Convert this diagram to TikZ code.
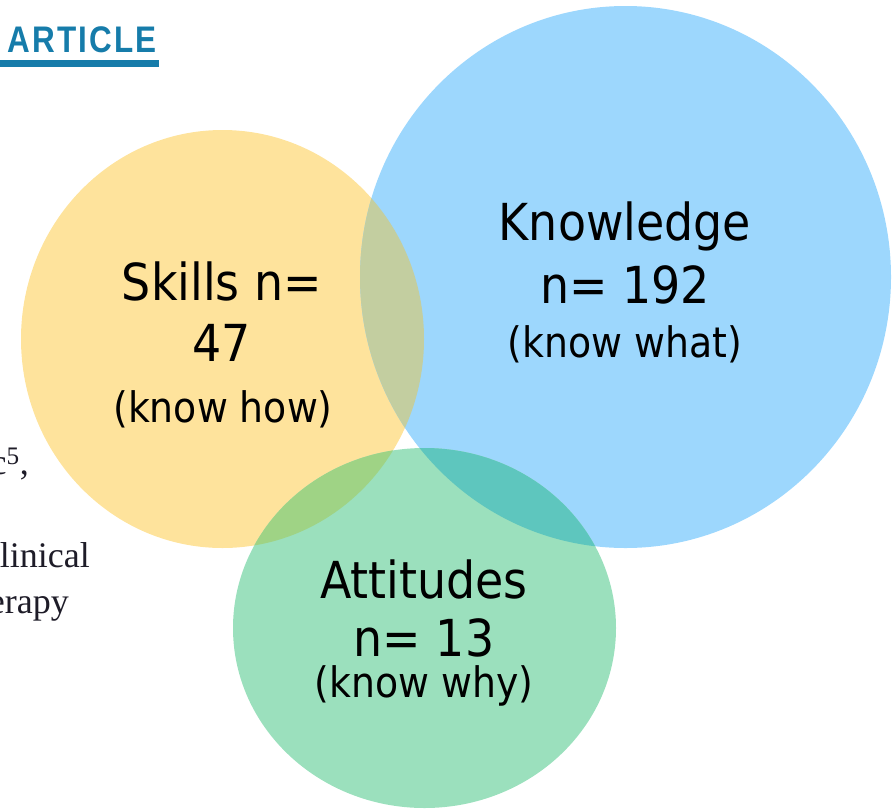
\documentclass[tikz,border=0pt]{standalone}
\usepackage{fontspec}
\setmainfont{DejaVu Sans}[FakeStretch=0.9]
\newfontfamily\headfont{Liberation Sans}[FakeStretch=0.85, LetterSpace=6]
\newfontfamily\bodyfont{Liberation Serif}

\definecolor{skillfill}{RGB}{254,227,156}
\definecolor{knowfill}{RGB}{157,215,253}
\definecolor{attfill}{RGB}{155,224,189}
\definecolor{skknow}{RGB}{195,206,160}
\definecolor{skatt}{RGB}{159,211,133}
\definecolor{knatt}{RGB}{94,198,190}
\definecolor{articleblue}{RGB}{22,124,170}
\definecolor{bodyink}{RGB}{30,28,40}

\tikzset{
  skillshape/.style={insert path={(222.5,339) ellipse [x radius=201.5pt, y radius=209pt]}},
  knowshape/.style={insert path={(625.5,277) ellipse [x radius=265.5pt, y radius=271pt]}},
  attshape/.style={insert path={(424.5,628) ellipse [x radius=191.5pt, y radius=180pt]}},
  biglabel/.style={inner sep=0pt, anchor=base, text=black, font=\fontsize{51}{51}\selectfont},
  smalllabel/.style={inner sep=0pt, anchor=base, text=black, font=\fontsize{42}{42}\selectfont},
  bodytext/.style={inner sep=0pt, anchor=base east, text=bodyink, font=\bodyfont\fontsize{36}{36}\selectfont},
}

\begin{document}
\begin{tikzpicture}[x=1pt, y=-1pt]
  \useasboundingbox (0,0) rectangle (896,809);
  \clip (0,0) rectangle (896,809);

  % header of the page behind the diagram
  \node[inner sep=0pt, anchor=base west, text=articleblue,
        font=\headfont\bfseries\fontsize{37}{37}\selectfont] (article) at (7,52) {ARTICLE};
  \fill[articleblue] (0,60) rectangle (159,67);

  % fragments of the article body at the left edge
  \node[bodytext] (frag1) at (29,474) {c\textsuperscript{5},};
  \node[bodytext] (frag2) at (90,567) {linical};
  \node[bodytext] (frag3) at (69,613) {erapy};

  % the three sets
  \fill[skillfill, skillshape];
  \fill[knowfill, knowshape];
  \fill[attfill, attshape];

  % pairwise overlaps
  \begin{scope}
    \clip[skillshape];
    \fill[skknow, knowshape];
    \fill[skatt, attshape];
  \end{scope}
  \begin{scope}
    \clip[knowshape];
    \fill[knatt, attshape];
  \end{scope}

  % labels
  \node[biglabel] (skillsA) at (222,300) {Skills n=};
  \node[biglabel] (skillsB) at (222,361) {47};
  \node[smalllabel] (skillsC) at (223,422) {(know how)};

  \node[biglabel] (knowA) at (625,240) {Knowledge};
  \node[biglabel] (knowB) at (625,303) {n= 192};
  \node[smalllabel] (knowC) at (625,357) {(know what)};

  \node[biglabel] (attA) at (424,598) {Attitudes};
  \node[biglabel] (attB) at (424,656) {n= 13};
  \node[smalllabel] (attC) at (424,697) {(know why)};
\end{tikzpicture}
\end{document}
